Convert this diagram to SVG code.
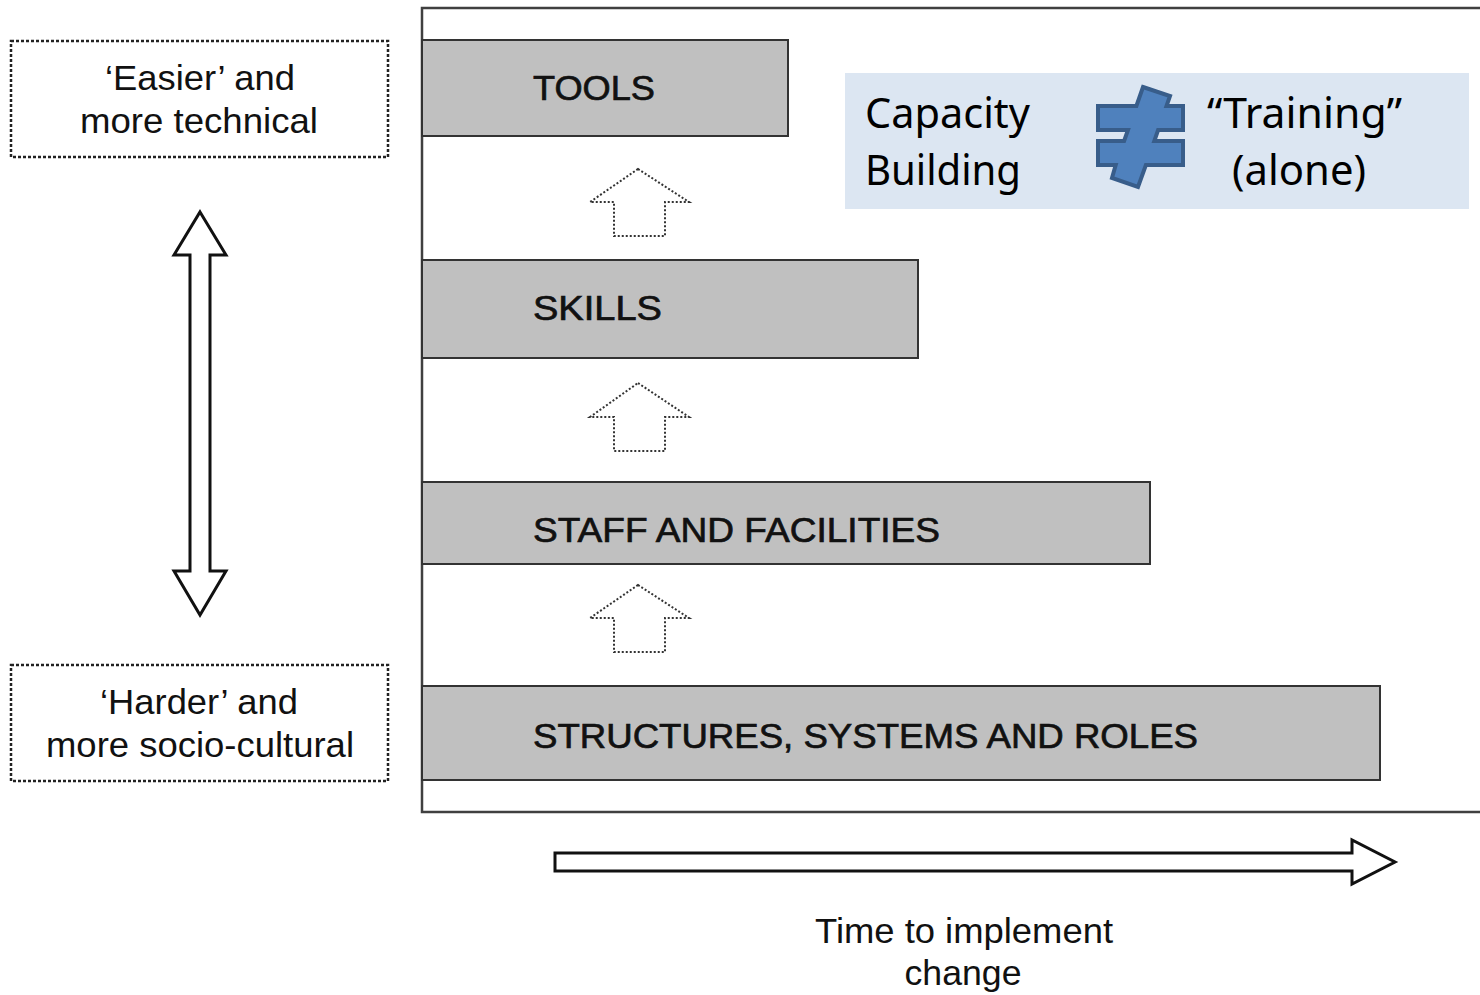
<svg xmlns="http://www.w3.org/2000/svg" width="1480" height="995" viewBox="0 0 1480 995">
<style>
.bar{fill:#c0c0c0;stroke:#333;stroke-width:2}
.bt{font-family:"Liberation Sans",Arial,sans-serif;font-size:35px;fill:#111;stroke:#111;stroke-width:0.7}
.lt{font-family:"Liberation Sans",Arial,sans-serif;font-size:35px;fill:#111;text-anchor:middle}
.dbox{fill:none;stroke:#222;stroke-width:2.5;stroke-dasharray:3 2}
.dar{fill:none;stroke:#333;stroke-width:2;stroke-dasharray:2 2}
.oar{fill:#fff;stroke:#111;stroke-width:3;stroke-linejoin:miter}
.cb{font-family:"Noto Sans","Open Sans",sans-serif;font-size:42px;fill:#000}
</style>
<rect width="1480" height="995" fill="#fff"/>
<g id="frame">
<path d="M1482,8 H422 V812 H1482" fill="none" stroke="#404040" stroke-width="2.5"/>
</g>
<g id="tools"><rect class="bar" x="422" y="40" width="366" height="96"/><text class="bt" x="533" y="100" textLength="122" lengthAdjust="spacingAndGlyphs">TOOLS</text></g>
<g id="skills"><rect class="bar" x="422" y="260" width="496" height="98"/><text class="bt" x="533" y="320" textLength="129" lengthAdjust="spacingAndGlyphs">SKILLS</text></g>
<g id="staff"><rect class="bar" x="422" y="482" width="728" height="82"/><text class="bt" x="533" y="542" textLength="407" lengthAdjust="spacingAndGlyphs">STAFF AND FACILITIES</text></g>
<g id="structures"><rect class="bar" x="422" y="686" width="958" height="94"/><text class="bt" x="533" y="748" textLength="665" lengthAdjust="spacingAndGlyphs">STRUCTURES, SYSTEMS AND ROLES</text></g>
<g id="capacity">
<rect x="845" y="73" width="624" height="136" fill="#dce6f2"/>
<text class="cb" x="865" y="128" textLength="165" lengthAdjust="spacingAndGlyphs">Capacity</text>
<text class="cb" x="865" y="185" textLength="156" lengthAdjust="spacingAndGlyphs">Building</text>
<path d="M1143,87 L1170,96 L1166.5,106 L1183,106 L1183,130 L1158.1,130 L1154.3,141 L1183,141 L1183,165 L1145.9,165 L1138,187 L1112,178 L1115.7,165 L1098,165 L1098,141 L1124.1,141 L1128,130 L1098,130 L1098,106 L1136.4,106 Z" fill="#4f81bd" stroke="#385d8a" stroke-width="4" stroke-linejoin="miter"/>
<text class="cb" x="1207" y="128" textLength="195" lengthAdjust="spacingAndGlyphs">“Training”</text>
<text class="cb" x="1232" y="185" textLength="134" lengthAdjust="spacingAndGlyphs">(alone)</text>
</g>
<g id="easier">
<rect class="dbox" x="11" y="41" width="377" height="116"/>
<text class="lt" x="200" y="90" textLength="190" lengthAdjust="spacingAndGlyphs">‘Easier’ and</text>
<text class="lt" x="199" y="133" textLength="238" lengthAdjust="spacingAndGlyphs">more technical</text>
</g>
<g id="harder">
<rect class="dbox" x="11" y="665" width="377" height="116"/>
<text class="lt" x="199" y="714" textLength="198" lengthAdjust="spacingAndGlyphs">‘Harder’ and</text>
<text class="lt" x="200" y="757" textLength="308" lengthAdjust="spacingAndGlyphs">more socio-cultural</text>
</g>
<g id="connectors">
<path class="oar" d="M200,212 L226,255 L210,255 L210,571 L226,571 L200,615 L174,571 L190,571 L190,255 L174,255 Z"/>
<path class="dar" d="M638,169 L689,202 L665,202 L665,236 L614,236 L614,202 L590,202 Z"/>
<path class="dar" d="M638,383 L689,417 L665,417 L665,451 L614,451 L614,417 L590,417 Z"/>
<path class="dar" d="M638,585 L689,618 L665,618 L665,652 L614,652 L614,618 L590,618 Z"/>
<path class="oar" d="M555,853 L1352,853 L1352,840 L1395,862 L1352,884 L1352,871 L555,871 Z"/>
</g>
<g id="time">
<text class="lt" x="964" y="943" textLength="298" lengthAdjust="spacingAndGlyphs">Time to implement</text>
<text class="lt" x="963" y="985" textLength="117" lengthAdjust="spacingAndGlyphs">change</text>
</g>
</svg>
